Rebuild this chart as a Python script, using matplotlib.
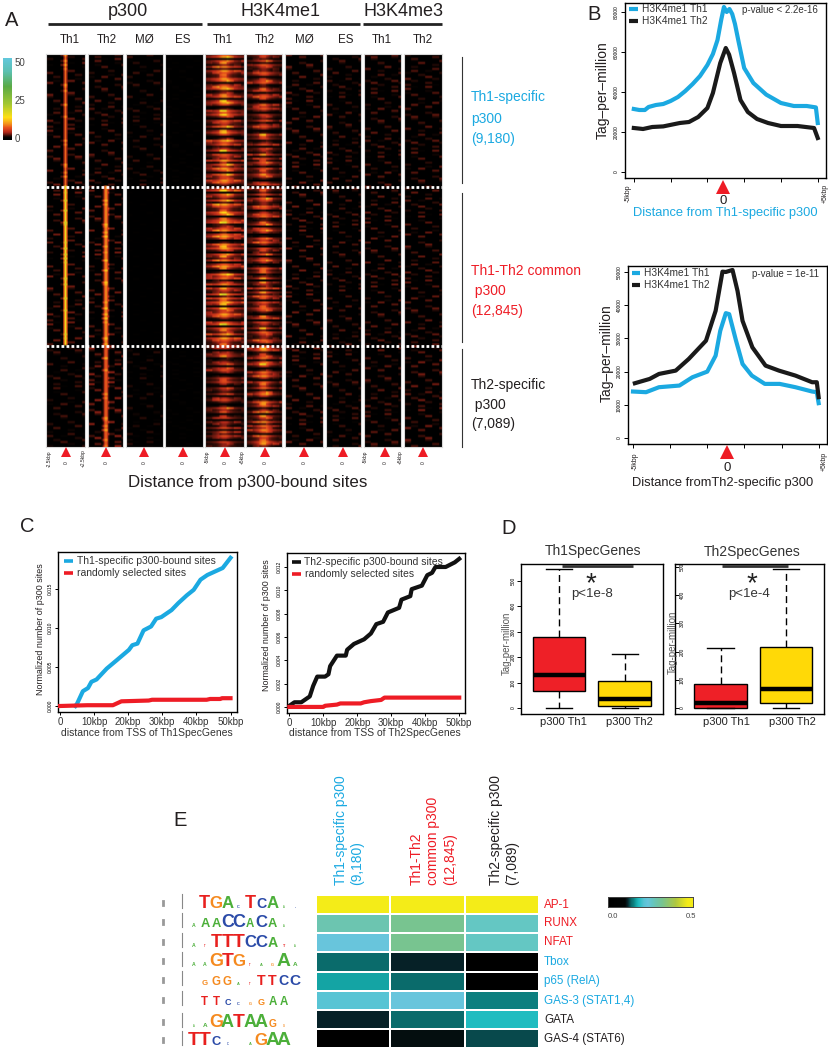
import numpy as np
import matplotlib
matplotlib.use("Agg")
import matplotlib.pyplot as plt
from matplotlib.colors import LinearSegmentedColormap

plt.rcParams['font.family'] = ['Liberation Sans', 'DejaVu Sans']

W, H = 829, 1050
BLUE = '#1BA9E1'
RED = '#EE1C25'
BLACK = '#231F20'
YEL = '#FFD907'

# ---- panel A: strength read per panel and per block (centre peak, background)
panel_names = ['Th1', 'Th2', 'MØ', 'ES', 'Th1', 'Th2', 'MØ', 'ES', 'Th1', 'Th2']
group_rows = [66, 80, 51]
a_center = [[9, 17, 0], [0, 11, 9], [0, 0, 0], [0, 0, 0], [10, 10, 6],
            [7, 8, 10], [0, 0, 0], [0, 0, 0], [0, 0, 0], [0, 0, 0]]
a_flank = [[3.8, 3.8, 3.2], [3.6, 3.8, 4.4], [2.8, .8, 2.4], [1.5, .8, 1.5], [5, 5.5, 3.8],
           [4, 4, 4], [3.8, 3.8, 3.8], [3.3, 3.3, 3.3], [3.6, 3.6, 3.6], [3.6, 3.6, 4]]
narrow = [0]*12 + [.5, 1, .5] + [0]*12
wide = [.05, .05, .1, .1, .15, .2, .25, .3, .4, .5, .7, .85, 1, 1, 1, .85, .7, .5, .4, .3, .25, .2, .15, .1, .1, .05, .05]
dense_rows = [.9, .5, 1, .7, .2, .9, .6, .6, 1, .8, .4, .1, .7, 1, .1, .8, .6, .4, .9, .3, 1, .7, .5, .5,
              1, .8, .15, .6, .9, 1, .3, .4, .7, .9, .2, .8, 1, .6, .05, .3, .9, .7, 1, .5, .1, .8, .6, .45,
              .85, .2, .7, .95, .55, .1, .35, 1, .65, .8, .25, .5, .9, .15, .75, .6, .4, 1, .3]
streak = [0, 0, 1, 0, 0, 0, .6, 0, 0, 0, 0, .8, 0, 0, 0, .4, 0, 1, 0, 0, 0, 0, 0, .5, 0, 0, 0, .9, 0, 0, 0, 0, 0, 0, .7, 0, 0,
          0, 0, 0, .5, 0, 1, 0, 0, 0, 0, .9, 0, 0, .3, 0, 0, 0, 0, 0, .7, 0, 0, 0, 1, 0, 0, .6, 0, 0, 0, 0, 0, 0, .8, 0, 0, .4, 0,
          0, 0, 1, 0, 0, 0, 0, .6, 0, 0, 0, 0, 0, .9, 0, .5, 0, 0, 0, 0, .7, 0]
a_colorbar_ticks = [0, 25, 50]

# ---- panel B curves, x in kbp, y in tag per million
b1_x_blue = [-5, -4.7, -4.4, -4.2, -3.8, -3.4, -3, -2.6, -2.2, -1.8, -1.4, -1, -.7, -.45, -.25, -.1, .05, .2, .35, .5, .7, 1, 1.5, 2.2, 3, 3.7, 4.4, 4.9, 5]
b1_y_blue = [31.5, 31, 31, 32.5, 33.5, 34, 35.5, 37.5, 40.5, 44, 48, 53.5, 59, 66, 76, 82.5, 80, 81.5, 79, 74, 65, 52, 44.5, 38.7, 34.5, 33, 33, 32.3, 24.5]
b1_x_black = [-5, -4.5, -4, -3.4, -2.5, -2, -1.5, -1, -.7, -.3, 0, .18, .45, .8, 1.2, 1.7, 2.3, 3, 3.9, 4.8, 5]
b1_y_black = [22, 21.5, 22.5, 22.8, 24.5, 25, 27.5, 32, 39.5, 54.5, 62, 58.7, 49.5, 36, 30, 26.5, 24.5, 23, 23, 22, 17]
b2_x_blue = [-5, -4.3, -3.6, -2.5, -1.8, -1, -.55, -.3, 0, .18, .55, .9, 1.4, 2.1, 2.9, 3.75, 4.65, 4.9, 5]
b2_y_blue = [14, 13.8, 15.3, 15.8, 18.3, 20, 24.8, 32.3, 37.6, 37.3, 29.3, 22.3, 18.8, 16.3, 16.3, 15.3, 14, 13.8, 10.5]
b2_x_black = [-4.9, -4.1, -3.6, -2.7, -2, -1.07, -.55, -.18, 0, .36, .63, .9, 1.43, 2.14, 2.86, 3.75, 4.65, 4.9, 5]
b2_y_black = [16.5, 17.8, 19.3, 20.3, 23.8, 29.3, 38.3, 50.1, 50, 50.6, 44.3, 35.3, 27.3, 21.8, 20.3, 18.8, 16.8, 16.8, 12.3]

# ---- panel C curves, x in kbp
c1_x_blue = [4.5, 5, 6.7, 8.2, 9.2, 10.7, 13.7, 16.7, 20.2, 21.2, 22.7, 24.5, 26.7, 28.2, 29.7, 32.7, 34.7, 37.2, 39.2, 41.2, 43.2, 46.7, 47.7, 50]
c1_y_blue = [0, .0003, .0019, .0023, .0031, .0034, .0048, .0059, .0072, .0078, .008, .0097, .0102, .0112, .0114, .0123, .0132, .0142, .0149, .0162, .0168, .0175, .0177, .019]
c1_x_red = [0, 8, 15.5, 18, 26, 27, 43, 44, 47, 47.5, 50]
c1_y_red = [0, .0001, .0001, .0006, .0007, .0008, .0008, .0009, .0009, .001, .001]
c2_x_black = [0, 1.5, 3.5, 6, 7, 8.2, 10.5, 11.5, 12, 14, 16.6, 17, 19, 22, 24, 25.6, 27.6, 29, 32.3, 33, 35.6, 36, 39, 40.6, 42, 43, 46, 48.7, 50]
c2_y_black = [.0001, .0004, .0004, .0009, .0018, .0026, .0026, .0028, .0035, .0044, .0044, .0049, .0054, .0058, .0063, .0071, .0073, .0081, .0085, .0092, .0095, .0101, .0104, .0113, .0115, .012, .012, .0124, .0127]
c2_x_red = [0, 10, 10.5, 14, 15, 21, 22, 24, 27, 28, 50]
c2_y_red = [0, 0, .0001, .0002, .0003, .0003, .0004, .0005, .0006, .0008, .0008]
c_xticks = [0, 10, 20, 30, 40, 50]
c_xlabels = ['0', '10kbp', '20kbp', '30kbp', '40kbp', '50kbp']

# ---- panel D boxes: low, q1, median, q3, high
d_labels = ['p300 Th1', 'p300 Th2']
d1_th1 = [0, 65, 130, 280, 546]
d1_th2 = [0, 6, 35, 108, 211]
d2_th1 = [0, 0, 18, 86, 212]
d2_th2 = [0, 18, 67, 216, 494]

# ---- panel E
e_rows = ['AP-1', 'RUNX', 'NFAT', 'Tbox', 'p65 (RelA)', 'GAS-3 (STAT1,4)', 'GATA', 'GAS-4 (STAT6)']
e_vals = [[.5, .5, .5],
          [.28, .32, .26],
          [.235, .32, .26],
          [.135, .115, 0],
          [.165, .135, 0],
          [.21, .235, .15],
          [.115, .135, .18],
          [0, .105, .125]]
logo_seq = [' TGAcTCAac', 'aAACCACAa ', 'atTTTCCAta', 'aaGTGtagAa', ' GGGatTTCC',
            ' TTCcgGAA ', 'aaGATAAGg ', 'TTCc aGAA ']
logo_size = [[0, 14, 13, 13, 3, 14, 11, 13, 2, 1],
             [4, 10, 10, 14, 14, 9, 13, 10, 2, 0],
             [4, 2, 14, 15, 15, 13, 13, 11, 3, 2],
             [4, 4, 14, 15, 13, 2, 3, 3, 15, 5],
             [0, 6, 9, 9, 3, 2, 11, 11, 11, 12],
             [0, 9, 9, 7, 3, 3, 7, 9, 9, 0],
             [2, 5, 14, 14, 15, 14, 14, 8, 2, 0],
             [15, 15, 10, 2, 0, 3, 13, 15, 15, 0]]

fig = plt.figure(figsize=(W/100, H/100), dpi=100, facecolor='white')


def px_axes(x0, y0, x1, y1):
    # pixel box measured from the top left of the picture
    return fig.add_axes([x0/W, 1-y1/H, (x1-x0)/W, (y1-y0)/H])


# overlay for the free text
ov = fig.add_axes([0, 0, 1, 1], zorder=10)
ov.set_xlim(0, W)
ov.set_ylim(H, 0)
ov.axis('off')
ov.patch.set_alpha(0)


def txt(x, y, s, size=8, color=BLACK, ha='center', va='center', rot=0, **kw):
    ov.text(x, y, s, fontsize=size, color=color, ha=ha, va=va, rotation=rot, **kw)


# ---------- A
hm_cmap = LinearSegmentedColormap.from_list('hm', [
    (0, '#000000'), (1.5/55, '#060302'), (3/55, '#4a120a'), (5/55, '#b5281a'), (8/55, '#e8501c'), (11/55, '#f59a1a'),
    (15/55, '#ffe015'), (24/55, '#a5c832'), (36/55, '#5aaa46'), (46/55, '#5cc0b0'), (1, '#62c8dc')])
panel_x = [(46, 85), (88, 123), (126, 163), (165, 203), (205, 244), (246, 282), (285, 323), (326, 361), (364, 401), (404, 442)]
for p, (x0, x1) in enumerate(panel_x):
    ax = px_axes(x0, 54, x1, 447)
    is_me1 = p in (4, 5)
    shape = wide if is_me1 else narrow
    if p == 1:
        shape = [0]*11 + [.3, .7, 1, .7, .3] + [0]*11
    rows = []
    i = 0
    for g, n in enumerate(group_rows):
        for r in range(n):
            row = []
            for j in range(27):
                s = streak[(3*i + j//5 + p*7) % len(streak)]
                if is_me1:
                    d = dense_rows[(i + p*3) % len(dense_rows)]
                    v = (a_center[p][g]*shape[j] + a_flank[p][g]) * d * (.75 + .5*s)
                else:
                    v = a_center[p][g]*shape[j] + a_flank[p][g]*s
                row.append(v)
            rows.append(row)
            i += 1
    ax.imshow(rows, cmap=hm_cmap, vmin=0, vmax=55, aspect='auto', interpolation='bilinear', interpolation_stage='rgba')
    ax.set_xticks([])
    ax.set_yticks([])
    for sp in ax.spines.values():
        sp.set_color('#d8d8d8')
        sp.set_linewidth(.8)

for y in (187, 346):
    ov.plot([46, 442], [y, y], color='white', lw=2, ls=(0, (1, .8)))
for x0, x1 in [(48, 202), (207, 360), (363, 442)]:
    ov.plot([x0, x1], [24, 24], color='#222222', lw=2, solid_capstyle='butt')
for x, s in [(128, 'p300'), (281, 'H3K4me1'), (404, 'H3K4me3')]:
    txt(x, 11, s, 13)
for x, s in zip([70, 107, 144, 183, 223, 265, 304, 346, 382, 423], panel_names):
    txt(x, 40, s, 8.4)
tri_x = [66, 106, 144, 183, 225, 265, 304, 343, 385, 423]
ov.plot(tri_x, [452]*10, '^', color=RED, ms=7.5, mew=0, ls='none')
for x in tri_x:
    txt(x, 463, '0', 3.5, rot=90)
for x, y, s in [(49, 459, '-2.5kbp'), (83, 458, '+2.5kbp'), (207, 457, '-5kbp'), (242, 457, '+5kbp'), (365, 457, '-5kbp'), (400, 457, '+5kbp')]:
    txt(x, y, s, 3.5, rot=90)
txt(248, 483, 'Distance from p300-bound sites', 12.2)

cb = px_axes(3, 58, 12, 140)
cb.imshow(np.linspace(55, 0, 120).reshape(-1, 1), cmap=hm_cmap, vmin=0, vmax=55, aspect='auto')
cb.axis('off')
for y, t in zip([139, 101, 63], a_colorbar_ticks):
    txt(15, y, str(t), 7, color='#444444', ha='left')

for y0, y1 in [(57, 183), (193, 342), (349, 447)]:
    ov.plot([462, 462], [y0, y1], color='#333333', lw=.8)
for y, s, c in [(97, 'Th1-specific', BLUE), (119, 'p300', BLUE), (139, '(9,180)', BLUE),
                (271, 'Th1-Th2 common', RED), (291, ' p300', RED), (311, '(12,845)', RED),
                (385, 'Th2-specific', BLACK), (405, ' p300', BLACK), (424, '(7,089)', BLACK)]:
    txt(471, y, s, 10, color=c, ha='left')

for x, y, s in [(12, 20, 'A'), (594, 15, 'B'), (27, 526, 'C'), (509, 529, 'D'), (180, 821, 'E')]:
    txt(x, y, s, 14.5)

# ---------- B


def b_panel(box, ylim, xlim, yticks, first, second):
    ax = px_axes(*box)
    for (x, y, c) in (first, second):
        ax.plot(x, [v*1000 for v in y], color=c, lw=3, solid_joinstyle='round')
    ax.set_xlim(*xlim)
    ax.set_ylim(*ylim)
    ax.set_xticks([-5, -3, -1, 1, 3, 5])
    ax.set_xticklabels([])
    ax.set_yticks(yticks)
    ax.set_yticklabels([str(t) for t in yticks], rotation=90, va='center', fontsize=3.5)
    ax.tick_params(length=3, width=.7, pad=1.5)
    for sp in ax.spines.values():
        sp.set_linewidth(1)
    return ax


b_panel((625, 3, 826, 178), (-3000, 84500), (-5.48, 5.45), [0, 20000, 40000, 60000, 80000],
        (b1_x_blue, b1_y_blue, BLUE), (b1_x_black, b1_y_black, '#1a1a1a'))
b_panel((628, 266, 827, 444), (-1800, 51800), (-5.27, 5.45), [0, 10000, 20000, 30000, 40000, 50000],
        (b2_x_blue, b2_y_blue, BLUE), (b2_x_black, b2_y_black, '#1a1a1a'))

for ly, c, s in [(9, BLUE, 'H3K4me1 Th1'), (21, '#1a1a1a', 'H3K4me1 Th2')]:
    ov.plot([629, 638], [ly, ly], color=c, lw=3, solid_capstyle='butt')
    txt(642, ly, s, 7.3, color='#333333', ha='left')
txt(742, 10, 'p-value < 2.2e-16', 7, color='#333333', ha='left')
for ly, c, s in [(273, BLUE, 'H3K4me1 Th1'), (285, '#1a1a1a', 'H3K4me1 Th2')]:
    ov.plot([632, 640], [ly, ly], color=c, lw=3, solid_capstyle='butt')
    txt(644, ly, s, 7.3, color='#333333', ha='left')
txt(752, 274, 'p-value = 1e-11', 7, color='#333333', ha='left')
txt(603, 90, 'Tag–per–million', 10, rot=90)
txt(607, 353, 'Tag–per–million', 10, rot=90)
ov.plot([723, 727], [187, 452], '^', color=RED, ms=10.5, mew=0, ls='none', clip_on=False)
txt(723, 201, '0', 9.5)
txt(727, 468, '0', 9.5)
txt(725, 213, 'Distance from Th1-specific p300', 9.3, color=BLUE)
txt(723, 483, 'Distance fromTh2-specific p300', 9.3)
txt(628, 193, '-5kbp', 5, rot=90)
txt(825, 193, '+5kbp', 5, rot=90)
txt(635, 461, '-5kbp', 5, rot=90)
txt(824, 461, '+5kbp', 5, rot=90)


# ---------- C


def c_panel(box, xlim, ylim, yticks, top, red, lab_col):
    ax = px_axes(*box)
    ax.plot(red[0], red[1], color=RED, lw=3, zorder=3)
    ax.plot(top[0], top[1], color=lab_col, lw=3, zorder=2)
    ax.set_xlim(*xlim)
    ax.set_ylim(*ylim)
    ax.set_xticks(c_xticks)
    ax.set_xticklabels(c_xlabels, fontsize=7, color='#333333')
    ax.set_yticks(yticks)
    ax.set_yticklabels(['%.3f' % t for t in yticks], rotation=90, va='center', fontsize=3.5)
    ax.tick_params(length=2.5, width=.7, pad=1.5)
    ax.tick_params(axis='x', pad=1)
    for sp in ax.spines.values():
        sp.set_linewidth(1)
    return ax


c_panel((58, 552, 237, 712), (-.6, 51.9), (-.00077, .01975), [0, .005, .01, .015],
        (c1_x_blue, c1_y_blue), (c1_x_red, c1_y_red), BLUE)
c_panel((287, 553, 465, 713), (-.7, 51.7), (-.00052, .0132), [0, .002, .004, .006, .008, .01, .012],
        (c2_x_black, c2_y_black), (c2_x_red, c2_y_red), '#111111')
for (lx, tx, ly, c, s) in [(64, 77, 561, BLUE, 'Th1-specific p300-bound sites'), (64, 77, 573, RED, 'randomly selected sites'),
                           (292, 304, 562, '#111111', 'Th2-specific p300-bound sites'), (292, 305, 574, RED, 'randomly selected sites')]:
    ov.plot([lx, lx+9], [ly, ly], color=c, lw=2.6, solid_capstyle='butt')
    txt(tx, ly, s, 7.5, color='#333333', ha='left')
txt(147, 733, 'distance from TSS of Th1SpecGenes', 7.5, color='#333333')
txt(375, 733, 'distance from TSS of Th2SpecGenes', 7.5, color='#333333')
txt(41, 629, 'Normalized number of p300 sites', 6.4, rot=90)
txt(267, 625, 'Normalized number of p300 sites', 6.4, rot=90)


# ---------- D


def box_stats(vals):
    return {'whislo': vals[0], 'q1': vals[1], 'med': vals[2], 'q3': vals[3], 'whishi': vals[4], 'fliers': []}


def d_panel(box, xlim, ylim, first, second, inside):
    ax = px_axes(*box)
    parts = ax.bxp([box_stats(first), box_stats(second)], positions=[1, 2], widths=.8, patch_artist=True, showfliers=False,
                   boxprops=dict(linewidth=1),
                   medianprops=dict(color='black', linewidth=3.2, solid_capstyle='butt'),
                   whiskerprops=dict(color='black', linewidth=1, linestyle=(0, (5, 3))),
                   capprops=dict(color='black', linewidth=1), capwidths=.4)
    parts['boxes'][0].set_facecolor('#EE2027')
    parts['boxes'][1].set_facecolor(YEL)
    ax.set_xlim(*xlim)
    ax.set_ylim(*ylim)
    ax.set_xticks([])
    ticks = [0, 100, 200, 300, 400, 500]
    ax.set_yticks(ticks)
    ax.set_yticklabels([str(t) for t in ticks], rotation=90, va='center', fontsize=3.5)
    if inside:
        ax.tick_params(axis='y', direction='in', length=3, width=.7, pad=-7)
    else:
        ax.tick_params(axis='y', length=3, width=.7, pad=1)
    for sp in ax.spines.values():
        sp.set_linewidth(1)


d_panel((521, 564, 663, 714), (.424, 2.58), (-23.5, 566), d1_th1, d1_th2, False)
d_panel((675, 564, 824, 714), (.305, 2.58), (-21, 510), d2_th1, d2_th2, True)
txt(593, 551, 'Th1SpecGenes', 10, color='#333333')
txt(752, 552, 'Th2SpecGenes', 10, color='#333333')
txt(563, 722, d_labels[0], 8, color='#222222')
txt(629, 722, d_labels[1], 8, color='#222222')
txt(726, 722, d_labels[0], 8, color='#222222')
txt(792, 722, d_labels[1], 8, color='#222222')
ov.plot([562, 633], [566, 566], color='#333333', lw=2, solid_capstyle='butt')
ov.plot([722, 788], [566, 566], color='#333333', lw=2, solid_capstyle='butt')
txt(591, 584, '*', 20, color='#222222')
txt(752, 584, '*', 20, color='#222222')
txt(592, 594, 'p<1e-8', 9.5, color='#333333')
txt(749, 594, 'p<1e-4', 9.5, color='#333333')
txt(507, 643, 'Tag-per-million', 7, color='#555555', rot=90)
txt(673, 642, 'Tag-per-million', 7, color='#555555', rot=90)


# ---------- E
e_cmap = LinearSegmentedColormap.from_list('e', [
    (0, '#000000'), (.1/.5, '#030606'), (.115/.5, '#06242a'), (.135/.5, '#0a6b6b'), (.15/.5, '#0c8080'),
    (.165/.5, '#14a5a5'), (.18/.5, '#20bcc0'), (.21/.5, '#58c4d4'), (.235/.5, '#68c5dc'), (.26/.5, '#64c7c4'),
    (.28/.5, '#6cc5b0'), (.32/.5, '#78c490'), (.4/.5, '#b0c840'), (.47/.5, '#f4ec18'), (1, '#f4ec18')])
hm = px_axes(316, 895, 539, 1048)
hm.pcolormesh(e_vals, cmap=e_cmap, vmin=0, vmax=.5, edgecolors='white', linewidth=1.2)
hm.invert_yaxis()
hm.axis('off')

row_y = [905, 923, 942, 962, 981, 1001, 1020, 1039]
row_col = [RED, RED, RED, BLUE, BLUE, BLUE, BLACK, BLACK]
for y, s, c in zip(row_y, e_rows, row_col):
    txt(544, y, s, 8.4, color=c, ha='left')

for x, s, c in [(341, 'Th1-specific p300', BLUE), (357, '(9,180)', BLUE), (417, 'Th1-Th2', RED), (433, 'common p300', RED),
                (450, '(12,845)', RED), (496, 'Th2-specific p300', BLACK), (512, '(7,089)', BLACK)]:
    txt(x, 885, s, 10, color=c, va='bottom', rot=90)

ecb = px_axes(608, 897, 693, 907)
ecb.imshow(np.linspace(0, .5, 200).reshape(1, -1), cmap=e_cmap, vmin=0, vmax=.5, aspect='auto')
ecb.set_xticks([])
ecb.set_yticks([])
for sp in ecb.spines.values():
    sp.set_linewidth(.7)
    sp.set_color('#444444')
txt(613, 916, '0.0', 5.5, color='#444444')
txt(691, 916, '0.5', 5.5, color='#444444')

letter_col = {'A': '#4CAF3A', 'C': '#2B4BA8', 'G': '#F58A1F', 'T': '#E8201E'}
logo_base = [908, 927, 947, 966, 985, 1005, 1027, 1045]
for seq, sizes, base in zip(logo_seq, logo_size, logo_base):
    ov.plot([182, 182], [base-14, base], color='#888888', lw=.8)
    ov.plot([163, 163], [base-7, base-3], color='#999999', lw=2)
    for k, (ch, h) in enumerate(zip(seq, sizes)):
        if ch == ' ' or h == 0:
            continue
        ov.text(193.5 + k*11.3, base, ch.upper(), fontsize=h/.716*.72*.92, color=letter_col[ch.upper()],
                ha='center', va='baseline', fontweight='bold')

fig.savefig('out.png', dpi=100)
